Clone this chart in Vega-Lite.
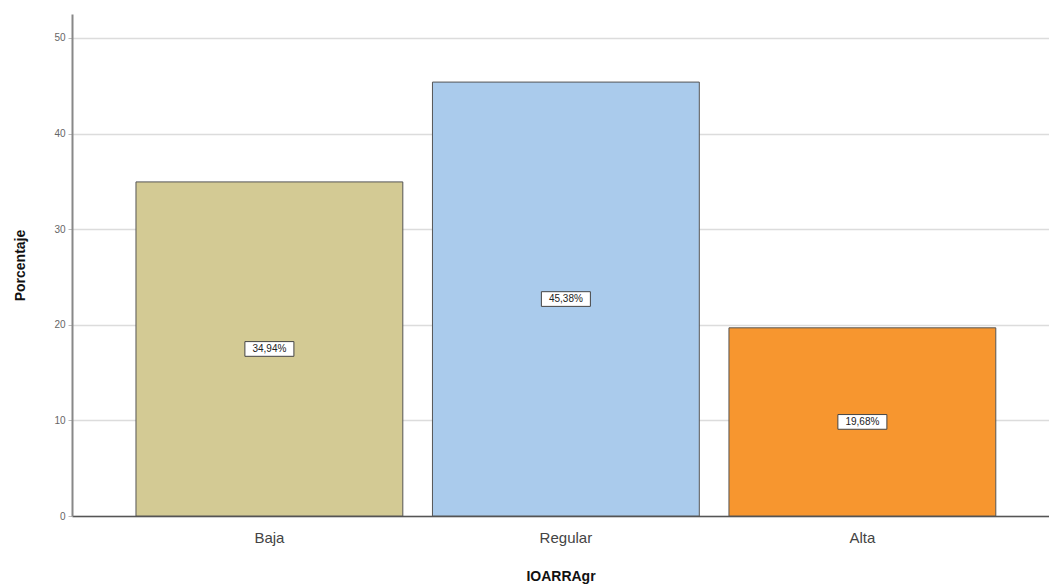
{
  "$schema": "https://vega.github.io/schema/vega-lite/v6.json",
  "width": 977,
  "height": 502,
  "autosize": {"type": "none"},
  "padding": {"left": 72, "top": 14, "right": 0, "bottom": 72},
  "background": "white",
  "config": {
    "font": "Liberation Sans",
    "view": {"stroke": null}
  },
  "data": {
    "values": [
      {"IOARRAgr": "Baja", "Porcentaje": 34.94, "etiqueta": "34,94%"},
      {"IOARRAgr": "Regular", "Porcentaje": 45.38, "etiqueta": "45,38%"},
      {"IOARRAgr": "Alta", "Porcentaje": 19.68, "etiqueta": "19,68%"}
    ]
  },
  "encoding": {
    "x": {
      "field": "IOARRAgr",
      "type": "nominal",
      "sort": ["Baja", "Regular", "Alta"],
      "scale": {"paddingInner": 0.1, "paddingOuter": 0.1976, "align": 0.546},
      "axis": {
        "title": "IOARRAgr",
        "titleFont": "Liberation Sans",
        "titleFontSize": 14,
        "titleFontWeight": "bold",
        "titleColor": "#111",
        "titlePadding": 24,
        "labelAngle": 0,
        "labelFontSize": 15,
        "labelColor": "#444",
        "labelPadding": 14,
        "ticks": false,
        "domainColor": "#555",
        "domainWidth": 1.5,
        "grid": false
      }
    }
  },
  "layer": [
    {
      "mark": {"type": "bar", "stroke": "#555", "strokeWidth": 1},
      "encoding": {
        "y": {
          "field": "Porcentaje",
          "type": "quantitative",
          "scale": {"domain": [0, 52.5], "nice": false},
          "axis": {
            "title": "Porcentaje",
            "titleFontSize": 14,
            "titleFontWeight": "bold",
            "titleColor": "#111",
            "titleX": -52,
            "titleBaseline": "middle",
            "values": [0, 10, 20, 30, 40, 50],
            "labelFontSize": 10,
            "labelColor": "#666",
            "tickSize": 4,
            "tickColor": "#bbb",
            "labelPadding": 3,
            "domainColor": "#888",
            "domainWidth": 2,
            "gridColor": "#dcdcdc",
            "gridWidth": 1.5
          }
        },
        "color": {
          "field": "IOARRAgr",
          "type": "nominal",
          "scale": {"domain": ["Baja", "Regular", "Alta"], "range": ["#d3ca94", "#aacbec", "#f7962f"]},
          "legend": null
        }
      }
    },
    {
      "transform": [{"calculate": "datum.Porcentaje / 2", "as": "centro"}],
      "mark": {"type": "point", "shape": "M-1,-0.3H1V0.3H-1Z", "size": 2401, "filled": true, "fill": "white", "stroke": "#444", "strokeWidth": 1, "opacity": 1},
      "encoding": {
        "y": {"field": "centro", "type": "quantitative"}
      }
    },
    {
      "transform": [{"calculate": "datum.Porcentaje / 2", "as": "centro"}],
      "mark": {"type": "text", "fontSize": 10, "color": "#222", "baseline": "middle", "align": "center"},
      "encoding": {
        "y": {"field": "centro", "type": "quantitative"},
        "text": {"field": "etiqueta"}
      }
    }
  ]
}
